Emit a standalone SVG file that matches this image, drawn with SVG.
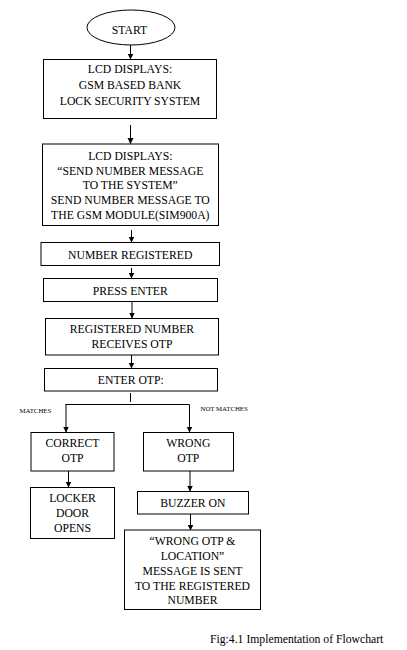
<svg xmlns="http://www.w3.org/2000/svg" width="407" height="650" viewBox="0 0 407 650">
<defs>
<marker id="ah" markerUnits="userSpaceOnUse" markerWidth="6" markerHeight="7" refX="5.5" refY="3" orient="auto">
<path d="M0,0 L6,3 L0,6 Z" fill="#000"/>
</marker>
<style>
.b{fill:#fff;stroke:#000;stroke-width:1}
.t{font-family:"Liberation Serif","Times New Roman",serif;font-size:11.7px;fill:#000;text-anchor:middle}
.s{font-family:"Liberation Serif","Times New Roman",serif;font-size:6.8px;fill:#000}
.c{stroke:#000;stroke-width:1;fill:none}
.a{stroke:#000;stroke-width:1;fill:none;marker-end:url(#ah)}
</style>
</defs>
<rect width="407" height="650" fill="#fff"/>
<g id="connectors">
<line class="a" x1="130.5" y1="45" x2="130.5" y2="59"/>
<line class="a" x1="130.5" y1="125" x2="130.5" y2="143.5"/>
<line class="a" x1="131.5" y1="230" x2="131.5" y2="242"/>
<line class="a" x1="131.5" y1="268" x2="131.5" y2="278"/>
<line class="a" x1="132" y1="302" x2="132" y2="318"/>
<line class="a" x1="131.5" y1="355" x2="131.5" y2="368"/>
<line class="c" x1="130.5" y1="393" x2="130.5" y2="402"/>
<line class="c" x1="65.5" y1="404.5" x2="189.5" y2="404.5"/>
<line class="a" x1="66" y1="404.5" x2="66" y2="432"/>
<line class="a" x1="189.5" y1="404.5" x2="189.5" y2="432"/>
<line class="a" x1="68.5" y1="471" x2="68.5" y2="487"/>
<line class="a" x1="190" y1="471" x2="190" y2="491"/>
<line class="a" x1="190.5" y1="514" x2="190.5" y2="530"/>
</g>
<g id="start">
<ellipse class="b" cx="131" cy="27.5" rx="44" ry="17.5"/>
<text class="t" x="129.5" y="33.5">START</text>
</g>
<g id="lcd1">
<rect class="b" x="43.5" y="59.5" width="173" height="59"/>
<text class="t" x="130" y="73">LCD DISPLAYS:</text>
<text class="t" x="130" y="89">GSM BASED BANK</text>
<text class="t" x="130" y="105">LOCK SECURITY SYSTEM</text>
</g>
<g id="lcd2">
<rect class="b" x="42.5" y="144" width="176" height="81.5"/>
<text class="t" x="130.3" y="159.5">LCD DISPLAYS:</text>
<text class="t" x="130.3" y="174.5">“SEND NUMBER MESSAGE</text>
<text class="t" x="130.3" y="189">TO THE SYSTEM”</text>
<text class="t" x="130.3" y="203.5">SEND NUMBER MESSAGE TO</text>
<text class="t" x="130.3" y="218.5">THE GSM MODULE(SIM900A)</text>
</g>
<g id="registered">
<rect class="b" x="41" y="242.5" width="178.5" height="23"/>
<text class="t" x="130.2" y="258.5">NUMBER REGISTERED</text>
</g>
<g id="press">
<rect class="b" x="43.5" y="278.5" width="174" height="23"/>
<text class="t" x="130.3" y="294.5">PRESS ENTER</text>
</g>
<g id="receives">
<rect class="b" x="45.5" y="318.5" width="173" height="36.5"/>
<text class="t" x="132" y="333">REGISTERED NUMBER</text>
<text class="t" x="132" y="348">RECEIVES OTP</text>
</g>
<g id="enter">
<rect class="b" x="44.5" y="368.5" width="173" height="22.5"/>
<text class="t" x="130.8" y="384">ENTER OTP:</text>
</g>
<g id="labels">
<text class="s" x="19.5" y="413">MATCHES</text>
<text class="s" x="200.5" y="410.5">NOT MATCHES</text>
</g>
<g id="correct">
<rect class="b" x="31" y="432.5" width="83" height="38.5"/>
<text class="t" x="72.5" y="447">CORRECT</text>
<text class="t" x="72.5" y="462">OTP</text>
</g>
<g id="wrong">
<rect class="b" x="143.5" y="432.5" width="90" height="38.5"/>
<text class="t" x="188.3" y="447">WRONG</text>
<text class="t" x="188.3" y="462">OTP</text>
</g>
<g id="locker">
<rect class="b" x="30.5" y="487.5" width="84" height="51"/>
<text class="t" x="72.5" y="502">LOCKER</text>
<text class="t" x="72.5" y="517">DOOR</text>
<text class="t" x="72.5" y="532">OPENS</text>
</g>
<g id="buzzer">
<rect class="b" x="137.5" y="491.5" width="111" height="22.5"/>
<text class="t" x="192.8" y="507">BUZZER ON</text>
</g>
<g id="message">
<rect class="b" x="124.5" y="530" width="136" height="79.5"/>
<text class="t" x="192.5" y="544.5">“WRONG OTP &amp;</text>
<text class="t" x="192.5" y="559.5">LOCATION”</text>
<text class="t" x="192.5" y="574.5">MESSAGE IS SENT</text>
<text class="t" x="192.5" y="589.5">TO THE REGISTERED</text>
<text class="t" x="192.5" y="604">NUMBER</text>
</g>
<text class="t" x="296.7" y="642.5">Fig:4.1 Implementation of Flowchart</text>
</svg>
